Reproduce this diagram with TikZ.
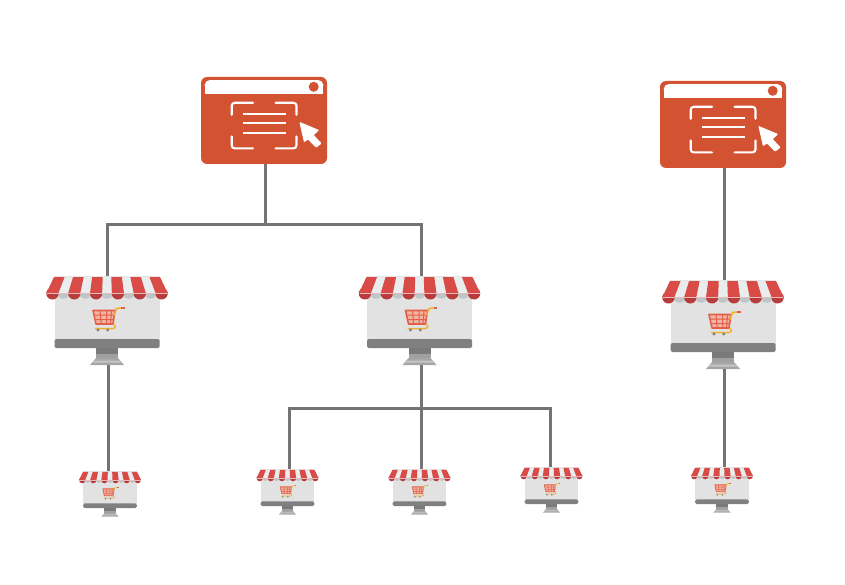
\documentclass[tikz,border=0pt]{standalone}
\usetikzlibrary{calc}
\definecolor{winred}{HTML}{D25232}
\definecolor{wireGray}{HTML}{747474}
\definecolor{screenGray}{HTML}{E2E2E2}
\definecolor{bandGray}{HTML}{808080}
\definecolor{awnRed}{HTML}{D94B46}
\definecolor{awnDark}{HTML}{B83C3C}
\definecolor{awnWhite}{HTML}{E9EDED}
\definecolor{awnShade}{HTML}{BEC6C8}
\definecolor{cartRed}{HTML}{E2604A}
\definecolor{cartPale}{HTML}{F2B5A3}
\definecolor{cartGold}{HTML}{F0B030}
\tikzset{
  iconbox/.style={inner sep=0pt, outer sep=0pt},
  wire/.style={wireGray, line width=3pt},
  shop/.pic={
    \begin{scope}[scale=#1]
    \fill[screenGray] (-52.5,-44.5) rectangle (52.5,20);
    \fill[bandGray, rounded corners=1.5pt] (-52.5,18.5) rectangle (52.5,27.5);
    \fill[bandGray!95!black] (-11,27.5) rectangle (11,33);
    \fill[bandGray!75!white] (-11,33) rectangle (11,37.5);
    \fill[bandGray!70!white] (-11,37.5) -- (11,37.5) -- (17,44.5) -- (-17,44.5) -- cycle;
    \fill[bandGray!45!white] (-13,40) -- (13,40) -- (15,42) -- (-15,42) -- cycle;
    % scallops under the stripes
    \foreach \i in {1,3,...,9}{
      \pgfmathsetmacro{\mx}{-60+(\i+0.5)*120/11}
      \fill[awnShade] (\mx,-27) ellipse (6 and 5.2);
    }
    \foreach \i in {0,2,...,10}{
      \pgfmathsetmacro{\mx}{-60+(\i+0.5)*120/11}
      \fill[awnDark] (\mx,-27) ellipse (6.2 and 6);
    }
    \fill[awnWhite] (-52.5,-44) -- (52.5,-44) -- (60,-27) -- (-60,-27) -- cycle;
    \foreach \i in {0,2,...,10}{
      \pgfmathsetmacro{\ta}{-52.5+\i*105/11-0.5}
      \pgfmathsetmacro{\tb}{-52.5+(\i+1)*105/11+0.5}
      \pgfmathsetmacro{\ba}{-60+\i*120/11-0.6}
      \pgfmathsetmacro{\bb}{-60+(\i+1)*120/11+0.6}
      \fill[awnRed] (\ta,-43.5) -- (\tb,-43.5) -- (\bb,-27.5) -- (\ba,-27.5) -- cycle;
    }
    \draw[awnWhite!70!awnRed, line width=#1*0.6pt] (-60,-27) -- (60,-27);
    % cart
    \fill[cartPale] (-14,-10) -- (8,-10) -- (6,3.5) -- (-11,3.5) -- cycle;
    \draw[cartRed, line width=#1*1pt] (-7,-10) -- (-5.8,3.5) (-0.5,-10) -- (-0.2,3.5) (4.5,-10) -- (3.5,3.5)
      (-13,-5.5) -- (7.2,-5.5) (-12,-1) -- (6.6,-1);
    \draw[cartRed, line width=#1*1.6pt, line join=round] (-14,-10) -- (8,-10) -- (6,3.5) -- (-11,3.5) -- cycle;
    \draw[cartGold, line width=#1*1.5pt, line join=round] (-12,8) -- (6,8) .. controls (9,7.5) and (9,4) .. (6.5,3.5)
      (7,-5) -- (9.5,-12) -- (14,-12.5);
    \draw[cartRed, line width=#1*1.5pt] (14,-12.5) -- (17.5,-12.5);
    \fill[bandGray] (-9,9.5) circle (1.7) (0.7,9.5) circle (1.7);
    \end{scope}
    \node[iconbox, minimum width=#1*120pt, minimum height=#1*89pt] (-box) at (0,0) {};
  },
  webwin/.pic={
    \fill[winred, rounded corners=6pt] (-63,-43.5) rectangle (63,43.5);
    \fill[white, rounded corners=5pt] (-59.3,-40.4) rectangle (59.3,-30);
    \fill[white] (-59.3,-33) rectangle (59.3,-26.7);
    \fill[winred] (49.7,-33.7) circle (5);
    \draw[white, line width=2.1pt, line cap=round, rounded corners=3pt]
      (-32.3,-5.7) |- (-11,-17.7)
      (11.5,-17.7) -| (32.5,-5.7)
      (32.5,15.9) |- (11.5,27.9)
      (-11,27.9) -| (-32.3,15.9);
    \draw[white, line width=2.1pt] (-20.7,-6.4) -- (22,-6.4) (-20.7,2.9) -- (22,2.9) (-20.7,12.3) -- (22,12.3);
    \fill[white, rounded corners=1pt] (35.3,1.3) -- (55.3,9.6) -- (49.7,14.6) -- (57.7,22.9) -- (52,27.3) -- (44,18.9) -- (40,21.9) -- cycle;
    \node[iconbox, minimum width=126pt, minimum height=87pt] (-box) at (0,0) {};
  }
}
\begin{document}
\begin{tikzpicture}[x=1pt,y=-1pt]
\useasboundingbox (0,0) rectangle (845,585);
% left tree
\pic (winA) at (264,120.5) {webwin};
\pic (shopA) at (107,320.5) {shop=1};
\pic (shopB) at (419.5,320.5) {shop=1};
\pic (leafA) at (110,494) {shop=0.51};
\pic (leafB) at (287.5,492) {shop=0.51};
\pic (leafC) at (419.5,492) {shop=0.51};
\pic (leafD) at (551.5,490) {shop=0.51};
% right tree
\pic (winB) at (723,124.5) {webwin};
\pic (shopC) at (723,324.5) {shop=1};
\pic (leafE) at (722,490) {shop=0.51};
\coordinate (busA) at (265.7,224.7);
\coordinate (busB) at (421,408.5);
\draw[wire] (busA |- winA-box.south) -- (busA);
\draw[wire] (shopA-box.north) |- (busA);
\draw[wire] ([xshift=1.5pt]shopB-box.north) |- (busA);
\draw[wire] ([xshift=1pt]shopA-box.south) -- ([xshift=-2pt]leafA-box.north);
\draw[wire] (busB |- shopB-box.south) -- (busB);
\draw[wire] ([xshift=1.5pt]leafB-box.north) |- (busB);
\draw[wire] (busB) -- (busB |- leafC-box.north);
\draw[wire] ([xshift=-1.5pt]leafD-box.north) |- (busB);
\draw[wire] ([xshift=1pt]winB-box.south) -- ([xshift=1pt]shopC-box.north);
\draw[wire] ([xshift=1pt]shopC-box.south) -- ([xshift=2pt]leafE-box.north);
\end{tikzpicture}
\end{document}
